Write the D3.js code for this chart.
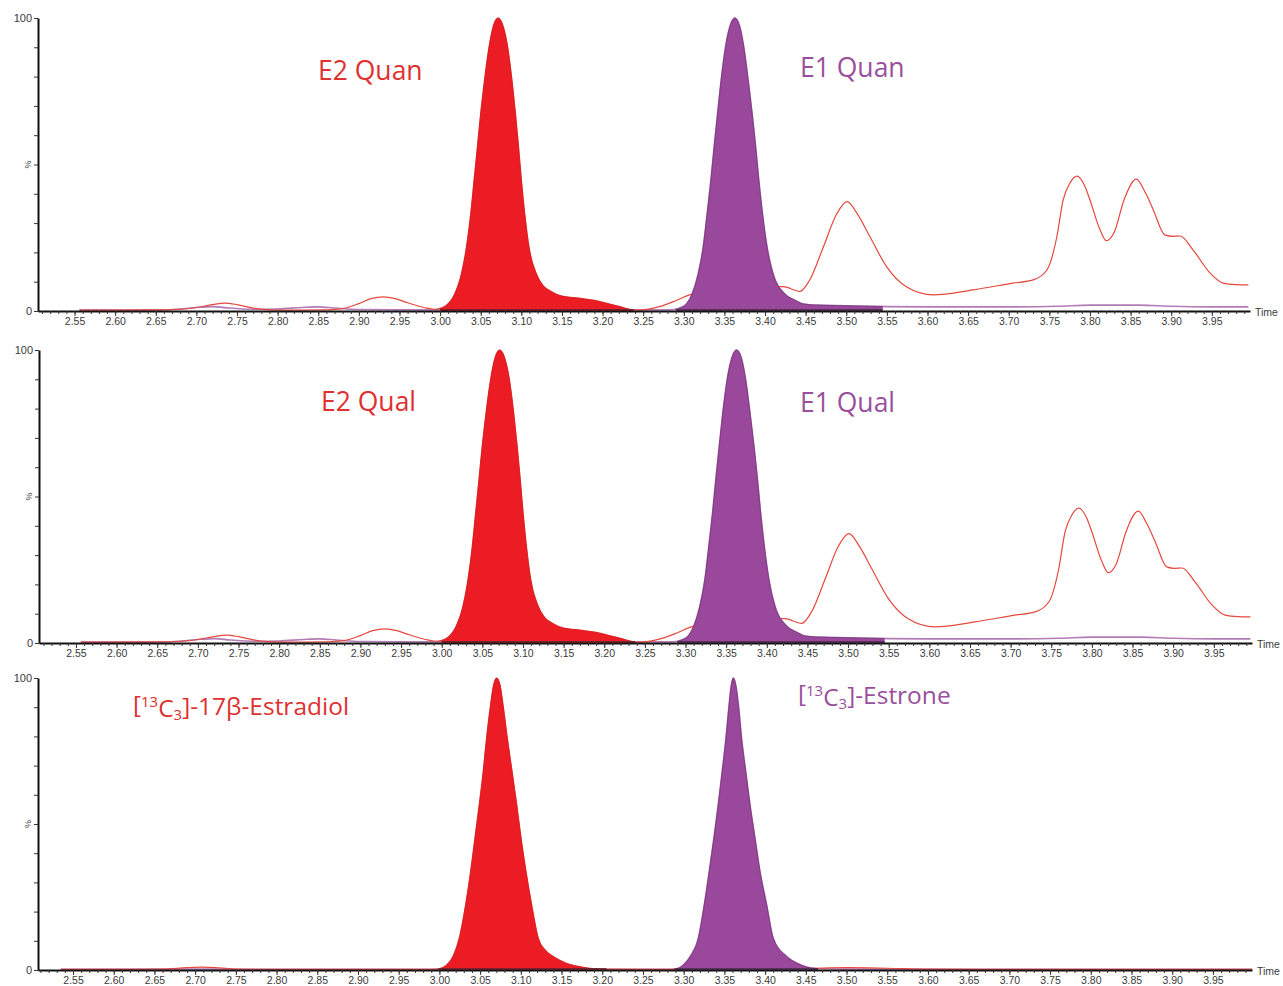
<!DOCTYPE html>
<html>
<head>
<meta charset="utf-8">
<script src="https://cdn.jsdelivr.net/npm/d3@7"></script>
<style>
  body { margin: 0; background: #fff; }
  svg { display: block; }
  .tick text { font-family: "Liberation Sans", Arial, sans-serif; fill: #3a3a3a; }
</style>
</head>
<body>
<div id="chart"></div>
<script>
// time axis labels (min)
const timeTicks = ["2.55", "2.60", "2.65", "2.70", "2.75", "2.80", "2.85", "2.90", "2.95", "3.00",
    "3.05", "3.10", "3.15", "3.20", "3.25", "3.30", "3.35", "3.40", "3.45", "3.50",
    "3.55", "3.60", "3.65", "3.70", "3.75", "3.80", "3.85", "3.90", "3.95"];
// intensity axis ticks (%)
const pctTicks = [0, 10, 20, 30, 40, 50, 60, 70, 80, 90, 100];

// E2 quan channel (red), [time, %]
const e2QuanTrace = [
    [2.556, 0.3], [2.60, 0.3], [2.65, 0.4], [2.68, 0.6], [2.70, 1.2], [2.72, 2.2], [2.735, 2.7], [2.75, 2.2],
    [2.77, 1.0], [2.79, 0.4], [2.82, 0.3], [2.86, 0.4], [2.88, 0.8], [2.90, 2.5], [2.915, 4.2], [2.93, 4.8],
    [2.945, 4.2], [2.96, 2.8], [2.98, 1.2], [2.993, 0.6], [3.0016, 1.0], [3.0097, 2.4], [3.018, 5.8],
    [3.0262, 12.6], [3.0324, 21.7], [3.0377, 33.1], [3.0418, 44.5], [3.0459, 55.9], [3.0499, 67.2],
    [3.0546, 78.6], [3.0602, 90], [3.0658, 97.5], [3.0713, 100], [3.0772, 97.5], [3.0832, 90],
    [3.0885, 78.6], [3.0928, 67.2], [3.0966, 55.9], [3.1001, 44.5], [3.1042, 33.1], [3.1095, 21.7],
    [3.1186, 12.6], [3.127, 8.6], [3.135, 6.9], [3.151, 5.0], [3.16, 4.7], [3.175, 4.2], [3.19, 3.6],
    [3.205, 2.6], [3.221, 1.5], [3.235, 0.5], [3.246, 0.3], [3.27, 1.5], [3.29, 3.5],
    [3.307, 5.5], [3.33, 6.5], [3.36, 7.2], [3.39, 8.2], [3.422, 8.3], [3.443, 6.7], [3.455, 10.6],
    [3.472, 22], [3.488, 33], [3.501, 37.3], [3.514, 33], [3.529, 25.4], [3.55, 15], [3.574, 8.3],
    [3.607, 5.5], [3.656, 7.2], [3.705, 9.5], [3.73, 10.6], [3.747, 14], [3.759, 25], [3.767, 37.9],
    [3.776, 44], [3.784, 46], [3.793, 43], [3.80, 37.9], [3.812, 28], [3.82, 24], [3.83, 27], [3.842, 38],
    [3.857, 45], [3.868, 40.5], [3.878, 34.5], [3.892, 26], [3.902, 25.5], [3.911, 25.6], [3.927, 20.8],
    [3.948, 12.9], [3.964, 9.5], [3.98, 9], [3.995, 8.9]
];
// E1 quan channel (purple)
const e1QuanTrace = [
    [2.556, 0.3], [2.65, 0.3], [2.68, 0.7], [2.70, 1.2], [2.72, 1.5], [2.74, 1.0], [2.77, 0.6], [2.80, 0.7],
    [2.83, 1.2], [2.85, 1.4], [2.87, 1.0], [2.90, 0.5], [2.95, 0.4], [3.00, 0.4], [3.10, 0.5], [3.20, 0.4],
    [3.25, 0.4], [3.285, 0.4], [3.2951, 1.0], [3.3033, 2.4], [3.3102, 5.8], [3.3176, 12.6], [3.3238, 21.7],
    [3.3287, 33.1], [3.3333, 44.5], [3.3373, 55.9], [3.3415, 67.2], [3.3459, 78.6], [3.3513, 90],
    [3.3572, 97.5], [3.3628, 100], [3.3684, 97.5], [3.3739, 90], [3.3793, 78.6], [3.3842, 67.2],
    [3.3885, 55.9], [3.3924, 44.5], [3.3969, 33.1], [3.4026, 21.7], [3.41, 12.6], [3.4244, 5.8],
    [3.4367, 3.7], [3.4469, 2.4], [3.465, 2.0], [3.50, 1.8], [3.55, 1.5], [3.60, 1.4],
    [3.70, 1.4], [3.76, 1.6], [3.80, 2.0], [3.86, 2.0], [3.90, 1.6], [3.95, 1.4], [3.995, 1.4]
];
// qual channels read the same as quan at this resolution
const e2QualTrace = e2QuanTrace;
const e1QualTrace = e1QuanTrace;

// 13C3 internal standards
const e2IstdTrace = [
    [2.535, 0.2], [2.60, 0.2], [2.66, 0.3], [2.69, 0.8], [2.71, 1.0], [2.73, 0.7], [2.75, 0.3], [2.80, 0.2],
    [2.90, 0.2], [2.98, 0.2], [2.999, 0.4], [3.009, 1.7], [3.017, 4.8], [3.0244, 10.9], [3.0322, 22.3],
    [3.0384, 33.8], [3.0437, 45.3], [3.049, 56.7], [3.0539, 68.2], [3.058, 79.6], [3.0625, 90],
    [3.0665, 97.5], [3.0703, 100], [3.0745, 97.5], [3.0785, 90], [3.0833, 79.6], [3.0891, 68.2],
    [3.0949, 56.7], [3.1002, 45.3], [3.1063, 33.8], [3.1133, 22.3], [3.1214, 10.9], [3.13, 6.8],
    [3.1398, 4.6], [3.155, 2.4], [3.1726, 1.1], [3.201, 0.3], [3.25, 0.2],
    [3.35, 0.3], [3.45, 0.5], [3.50, 0.8], [3.55, 0.6], [3.60, 0.3], [3.70, 0.2], [3.80, 0.2], [3.90, 0.2],
    [3.998, 0.2]
];
const e1IstdTrace = [
    [2.535, 0.2], [2.70, 0.3], [2.80, 0.2], [3.00, 0.2], [3.28, 0.2], [3.291, 0.4], [3.2995, 1.7],
    [3.3085, 4.8], [3.318, 10.9], [3.3253, 22.3], [3.3314, 33.8], [3.3372, 45.3], [3.3425, 56.7],
    [3.3474, 68.2], [3.352, 79.6], [3.3555, 90], [3.3585, 97.5], [3.361, 100], [3.364, 97.5],
    [3.3675, 90], [3.371, 79.6], [3.3761, 68.2], [3.3814, 56.7], [3.3875, 45.3], [3.3937, 33.8],
    [3.4019, 22.3], [3.41, 10.9], [3.4265, 4.6], [3.44, 2.2], [3.451, 1.0],
    [3.463, 0.5], [3.50, 0.3], [3.60, 0.2], [3.80, 0.2], [3.998, 0.2]
];

// integrated peak windows (min)
const e2Windows = [[3.0, 3.238], [3.0, 3.238], [2.999, 3.205]];
const e1Windows = [[3.29, 3.545], [3.29, 3.545], [3.289, 3.465]];

// peak names: [prefix, superscript, element, subscript, rest]
const e2Names = [["E2 Quan"], ["E2 Qual"], ["[", "13", "C", "3", "]-17\u03b2-Estradiol"]];
const e1Names = [["E1 Quan"], ["E1 Qual"], ["[", "13", "C", "3", "]-Estrone"]];

const W = 1283, H = 986;
const redFill = "#ec1c24", redLine = "#e5483f", redText = "#e0302f";
const purpleFill = "#9a489b", purpleLine = "#b27cb6", purpleText = "#9a4f9c";

// panel frames
const frames = [
    { left: 38, right: 1250, top: 18, base: 311, domain: [2.505, 3.997], e2Label: [318, 80], e1Label: [800, 77] },
    { left: 39, right: 1252, top: 350, base: 643, domain: [2.5045, 3.997], e2Label: [321, 411], e1Label: [800, 412] },
    { left: 38, right: 1252, top: 678, base: 970, domain: [2.507, 3.998], e2Label: [133, 713], e1Label: [798, 702] }
];
const e2Traces = [e2QuanTrace, e2QualTrace, e2IstdTrace];
const e1Traces = [e1QuanTrace, e1QualTrace, e1IstdTrace];

const svg = d3.select("#chart").append("svg")
    .attr("width", W)
    .attr("height", H)
    .attr("viewBox", [0, 0, W, H].join(" "));

function label(g, parts, pos, color) {
    let t = g.append("text")
        .attr("x", pos[0])
        .attr("y", pos[1])
        .attr("fill", color)
        .style("font-family", "'Open Sans', 'Noto Sans', sans-serif");
    if (parts.length === 1) {
        t.style("font-size", "26.5px").text(parts[0]);
        return;
    }
    t.style("font-size", "24.5px");
    t.append("tspan").text(parts[0]);
    t.append("tspan").text(parts[1]).attr("dy", "-0.42em").style("font-size", "15px");
    t.append("tspan").text(parts[2]).attr("dy", "0.42em");
    t.append("tspan").text(parts[3]).attr("dy", "0.18em").style("font-size", "15px");
    t.append("tspan").text(parts[4]).attr("dy", "-0.18em");
}

frames.forEach(function (f, i) {
    let x = d3.scaleLinear().domain(f.domain).range([f.left, f.right]);
    let y = d3.scaleLinear().domain([0, 100]).range([f.base, f.top]);

    let line = d3.line()
        .x(function (d) { return x(d[0]); })
        .y(function (d) { return y(d[1]); })
        .curve(d3.curveMonotoneX);
    let area = d3.area()
        .x(function (d) { return x(d[0]); })
        .y0(y(0))
        .y1(function (d) { return y(d[1]); })
        .curve(d3.curveMonotoneX);

    let g = svg.append("g");

    // clip rects for the integrated regions
    let defs = g.append("defs");
    defs.append("clipPath").attr("id", "clipE2" + i)
        .append("rect")
        .attr("x", x(e2Windows[i][0])).attr("width", x(e2Windows[i][1]) - x(e2Windows[i][0]))
        .attr("y", f.top - 5).attr("height", f.base - f.top + 5);
    defs.append("clipPath").attr("id", "clipE1" + i)
        .append("rect")
        .attr("x", x(e1Windows[i][0])).attr("width", x(e1Windows[i][1]) - x(e1Windows[i][0]))
        .attr("y", f.top - 5).attr("height", f.base - f.top + 5);

    // raw traces
    g.append("path").datum(e1Traces[i])
        .attr("d", line)
        .attr("fill", "none")
        .attr("stroke", purpleLine)
        .attr("stroke-width", 1.6);
    g.append("path").datum(e2Traces[i])
        .attr("d", line)
        .attr("fill", "none")
        .attr("stroke", redLine)
        .attr("stroke-width", 1.2);

    // filled peaks
    g.append("path").datum(e2Traces[i])
        .attr("d", area)
        .attr("clip-path", "url(#clipE2" + i + ")")
        .attr("fill", redFill)
        .attr("stroke", "#d0181f")
        .attr("stroke-width", 0.6);
    g.append("path").datum(e1Traces[i])
        .attr("d", area)
        .attr("clip-path", "url(#clipE1" + i + ")")
        .attr("fill", purpleFill)
        .attr("stroke", "#6e2f70")
        .attr("stroke-width", 0.7);

    // integration baselines
    [e2Windows[i], e1Windows[i]].forEach(function (w) {
        g.append("line")
            .attr("x1", x(w[0])).attr("x2", x(w[1]))
            .attr("y1", y(0.4)).attr("y2", y(0.4))
            .attr("stroke", "#3b2a3b")
            .attr("stroke-width", 1);
    });

    // time axis: minor ticks every 0.01, labelled every 0.05
    let minor = d3.range(251, 400).map(function (v) { return v / 100; });
    g.append("g")
        .attr("transform", "translate(0," + f.base + ")")
        .call(d3.axisBottom(x).tickValues(minor).tickSize(3).tickSizeOuter(0).tickFormat(""))
        .call(function (a) {
            a.select(".domain").attr("stroke", "#111").attr("stroke-width", 2);
            a.selectAll(".tick line").attr("stroke", "#333");
        });
    g.append("g")
        .attr("transform", "translate(0," + f.base + ")")
        .call(d3.axisBottom(x).tickValues(timeTicks.map(Number)).tickSize(5).tickSizeOuter(0)
            .tickPadding(2)
            .tickFormat(function (d) { return d3.format(".2f")(d); }))
        .call(function (a) {
            a.select(".domain").remove();
            a.selectAll(".tick line").attr("stroke", "#333");
            a.selectAll(".tick text").style("font-size", "10.5px");
        });

    svg.append("text")
        .attr("x", f.right + 5)
        .attr("y", f.base + 5)
        .attr("fill", "#3a3a3a")
        .style("font-family", "'Liberation Sans', Arial, sans-serif")
        .style("font-size", "10.5px")
        .text("Time");

    // intensity axis
    g.append("g")
        .attr("transform", "translate(" + f.left + ",0)")
        .call(d3.axisLeft(y).tickValues(pctTicks).tickSize(4).tickSizeOuter(0).tickPadding(2)
            .tickFormat(function (d) { return d === 100 || d === 0 ? String(d) : ""; }))
        .call(function (a) {
            a.select(".domain").attr("stroke", "#111").attr("stroke-width", 2);
            a.selectAll(".tick line").attr("stroke", "#333");
            a.selectAll(".tick text").style("font-size", "11px");
        });
    g.append("text")
        .attr("transform", "translate(" + (f.left - 7) + "," + y(50) + ") rotate(-90)")
        .attr("text-anchor", "middle")
        .attr("fill", "#3a3a3a")
        .style("font-family", "'Liberation Sans', Arial, sans-serif")
        .style("font-size", "9px")
        .text("%");

    label(g, e2Names[i], f.e2Label, redText);
    label(g, e1Names[i], f.e1Label, purpleText);
});
</script>
</body>
</html>
